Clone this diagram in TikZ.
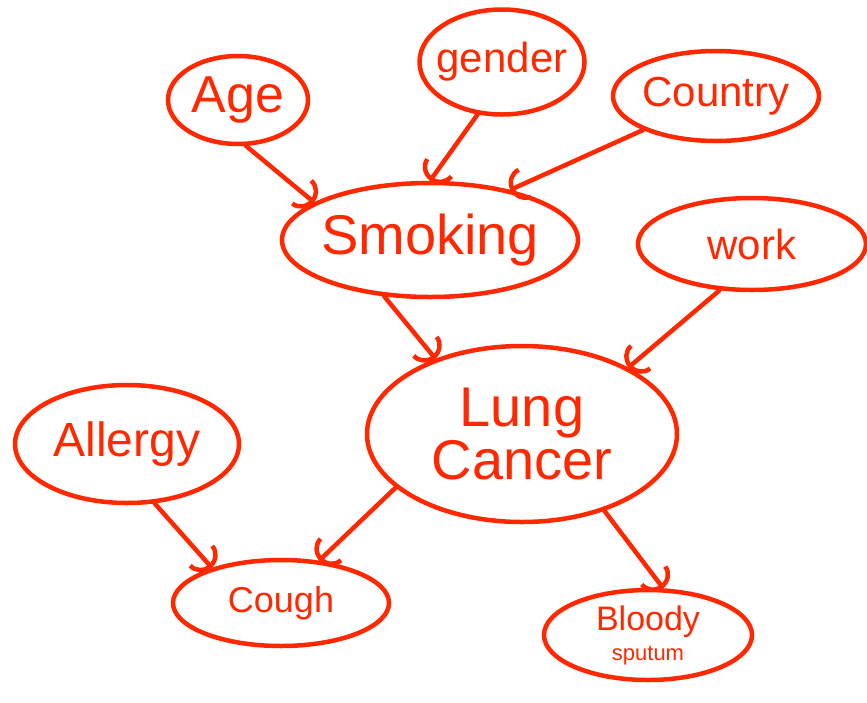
\documentclass[tikz,border=0pt]{standalone}
\usepackage{fontspec}
\setmainfont{Liberation Sans}
\usepackage{tikz}
\usetikzlibrary{shapes.geometric,arrows.meta}
\definecolor{penred}{RGB}{255,40,0}

\begin{document}
\begin{tikzpicture}
    [
        x=1pt, y=-1pt,
        blob/.style={ellipse, draw=penred, line width=4.5pt, text=penred, inner sep=-60pt, align=center},
        link/.style={draw=penred, line width=4.5pt, line cap=round, -{Arc Barb[length=16pt, width=34pt]}}
    ]
        \useasboundingbox (0,0) rectangle (867,702);

        \node[blob, minimum width=140pt, minimum height=88pt, font=\fontsize{52}{54}\selectfont] (age) at (238,100) {Age};
        \node[blob, minimum width=165pt, minimum height=105pt, font=\fontsize{42}{44}\selectfont] (gender) at (502,62) {gender};
        \node[blob, minimum width=206pt, minimum height=90pt, font=\fontsize{42}{44}\selectfont] (country) at (716,96) {Country};
        \node[blob, minimum width=296pt, minimum height=114pt, font=\fontsize{56}{58}\selectfont] (smoking) at (430,240) {Smoking};
        \node[blob, minimum width=228pt, minimum height=92pt, font=\fontsize{42}{44}\selectfont] (work) at (752,244) {work};
        \node[blob, minimum width=310pt, minimum height=176pt, font=\fontsize{56}{52}\selectfont] (lung) at (522,434) {Lung\\Cancer};
        \node[blob, minimum width=224pt, minimum height=118pt, font=\fontsize{48}{50}\selectfont] (allergy) at (127,444) {Allergy};
        \node[blob, minimum width=216pt, minimum height=86pt, font=\fontsize{36}{38}\selectfont] (cough) at (281,603) {Cough};
        \node[blob, minimum width=208pt, minimum height=90pt, font=\fontsize{34}{30}\selectfont] (bloody) at (648,635) {Bloody\\{\fontsize{22}{24}\selectfont sputum}};

        \draw[link] (age.-80) -- (smoking.162);
        \draw[link] (gender.245) -- (smoking.90);
        \draw[link] (country.205) -- (smoking.32);
        \draw[link] (smoking.231) -- (lung.139);
        \draw[link] (work.235) -- (lung.32);
        \draw[link] (lung.203) -- (cough.48);
        \draw[link] (allergy.295) -- (cough.153);
        \draw[link] (lung.317) -- (bloody.72);

    \end{tikzpicture}
\end{document}
